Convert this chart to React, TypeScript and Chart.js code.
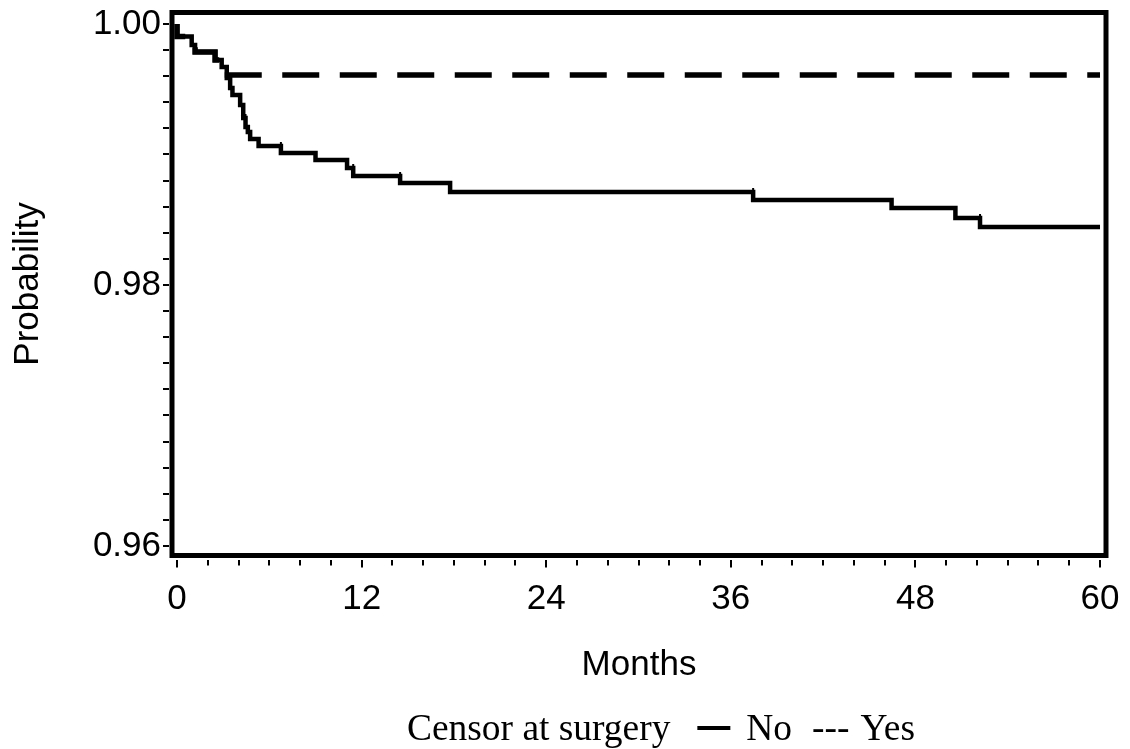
import React, { useEffect, useRef } from 'react';
import { Chart, registerables } from 'chart.js';

Chart.register(...registerables);

// Kaplan-Meier style survival estimates (months, probability)
const noMonths = [0, 0.95, 1.17, 2.47, 2.9, 3.23, 3.45, 3.6, 4.1, 4.3, 4.45, 4.6, 4.75, 5.3, 6.75, 9.0, 11.05, 11.45, 14.5, 17.75, 37.45, 46.45, 50.6, 52.2, 54.05, 60];
const noProb = [1.0, 0.99904, 0.99839, 0.99785, 0.99724, 0.9967, 0.99586, 0.9951, 0.99456, 0.99379, 0.9928, 0.99211, 0.99172, 0.99119, 0.99065, 0.99011, 0.98958, 0.98897, 0.98835, 0.98782, 0.98713, 0.98651, 0.9859, 0.98513, 0.98444, 0.98444];

const yesMonths = [0, 0.95, 1.17, 2.47, 2.9, 3.3, 60];
const yesProb = [1.0, 0.99904, 0.99839, 0.99785, 0.99724, 0.99609, 0.99609];

// censoring marks on the "No" curve
const censorMonths = [4.45, 6.75, 11.45, 14.5, 37.45, 52.2];
const censorProb = [0.9928, 0.99065, 0.98897, 0.98835, 0.98713, 0.98513];

const xTickValues = [0, 12, 24, 36, 48, 60];
const yTickValues = [0.96, 0.98, 1.0];
const xMinorStep = 2;
const yMinorStep = 0.002;

const legendTitle = 'Censor at surgery';
const legendLabels = ['No', 'Yes'];

const SANS = '"Liberation Sans", Arial, Helvetica, sans-serif';
const SERIF = '"Liberation Serif", "Times New Roman", Times, serif';

const framePlugin = {
  id: 'frameAndTicks',
  afterDraw(chart: any) {
    const { ctx, chartArea } = chart;
    const { left, top, right, bottom } = chartArea;
    const xs = chart.scales.x;
    const ys = chart.scales.y;
    ctx.save();
    ctx.strokeStyle = '#000';
    ctx.lineWidth = 5;
    ctx.strokeRect(left, top, right - left, bottom - top);
    // x ticks (outside, below frame)
    ctx.lineWidth = 2;
    for (let v = 0; v <= 60 + 1e-9; v += xMinorStep) {
      const px = Math.round(xs.getPixelForValue(v));
      const major = Math.abs(v % 12) < 1e-9;
      ctx.beginPath();
      ctx.moveTo(px, bottom + 4.5);
      ctx.lineTo(px, bottom + (major ? 12 : 10));
      ctx.stroke();
    }
    // y ticks (outside, left of frame)
    for (let i = 0; i <= 20; i++) {
      const v = 0.96 + i * yMinorStep;
      const py = Math.round(ys.getPixelForValue(v));
      ctx.beginPath();
      ctx.moveTo(left - 3, py);
      ctx.lineTo(left - 9, py);
      ctx.stroke();
    }
    // legend
    const sx = 0.985;
    const baseY = 740;
    ctx.fillStyle = '#000';
    ctx.font = `38px ${SERIF}`;
    ctx.textBaseline = 'alphabetic';
    const drawText = (t: string, x: number) => {
      ctx.save();
      ctx.translate(x, baseY);
      ctx.scale(sx, 1);
      ctx.fillText(t, 0, 0);
      ctx.restore();
      return x + ctx.measureText(t).width * sx;
    };
    let x = drawText(legendTitle, 407);
    x += 27;
    ctx.lineWidth = 4;
    ctx.setLineDash([]);
    ctx.beginPath();
    ctx.moveTo(x, baseY - 12);
    ctx.lineTo(x + 33, baseY - 12);
    ctx.stroke();
    x += 33 + 16;
    x = drawText(legendLabels[0], x);
    x += 20;
    x = drawText('---', x);
    x += 11;
    drawText(legendLabels[1], x);
    ctx.restore();
  },
};

const noOverhang = (s: any) => {
  s.paddingLeft = 0;
  s.paddingRight = 0;
  s.paddingTop = 0;
  s.paddingBottom = 0;
};

export default function App() {
  const ref = useRef<HTMLCanvasElement>(null);
  useEffect(() => {
    document.body.style.margin = '0';
    const noData = noMonths.map((m, i) => ({ x: m, y: noProb[i] }));
    const yesData = yesMonths.map((m, i) => ({ x: m, y: yesProb[i] }));
    const censorData = censorMonths.map((m, i) => ({ x: m, y: censorProb[i] }));
    const chart = new Chart(ref.current as HTMLCanvasElement, {
      type: 'line',
      data: {
        datasets: [
          {
            label: 'censor',
            data: censorData,
            showLine: false,
            pointStyle: 'line',
            rotation: 90,
            pointRadius: 4,
            pointBorderWidth: 2,
            pointBorderColor: '#000',
            pointBackgroundColor: '#000',
          } as any,
          {
            label: legendLabels[0],
            data: noData,
            stepped: 'after',
            borderColor: '#000',
            borderWidth: 4.5,
            pointRadius: 0,
            fill: false,
          },
          {
            label: legendLabels[1],
            data: yesData,
            stepped: 'after',
            borderColor: '#000',
            borderWidth: 5.5,
            borderDash: [37, 20.5],
            borderDashOffset: 16.3,
            pointRadius: 0,
            fill: false,
          },
        ],
      },
      options: {
        responsive: false,
        animation: false,
        devicePixelRatio: 1,
        layout: { padding: { left: 0, top: 12.5, right: 24, bottom: 60 } },
        plugins: { legend: { display: false }, tooltip: { enabled: false } },
        scales: {
          x: {
            type: 'linear',
            min: -0.33,
            max: 60.39,
            afterBuildTicks: (s: any) => {
              s.ticks = xTickValues.map((v) => ({ value: v }));
            },
            afterFit: (s: any) => {
              s.height = 133.5;
              noOverhang(s);
            },
            grid: { display: false, drawTicks: false },
            border: { display: false },
            ticks: {
              color: '#000',
              font: { family: SANS, size: 35 },
              padding: 23,
              maxRotation: 0,
              autoSkip: false,
              callback: (v: any) => String(v),
            },
            title: {
              display: true,
              text: 'Months',
              color: '#000',
              font: { family: SANS, size: 35 },
              padding: { top: 0, bottom: 3 },
            },
          },
          y: {
            type: 'linear',
            min: 0.95927,
            max: 1.00088,
            afterBuildTicks: (s: any) => {
              s.ticks = yTickValues.map((v) => ({ value: v }));
            },
            afterFit: (s: any) => {
              s.width = 172;
              noOverhang(s);
            },
            grid: { display: false, drawTicks: false },
            border: { display: false },
            ticks: {
              color: '#000',
              font: { family: SANS, size: 35 },
              padding: 11,
              callback: (v: any) => Number(v).toFixed(2),
            },
            title: {
              display: true,
              text: 'Probability',
              color: '#000',
              font: { family: SANS, size: 35 },
              padding: { top: 7.5, bottom: 0 },
            },
          },
        },
      },
      plugins: [framePlugin],
    });
    return () => chart.destroy();
  }, []);
  return (
    <div style={{ width: 1130, height: 749 }}>
      <canvas ref={ref} width={1130} height={749} style={{ display: 'block', width: 1130, height: 749 }} />
    </div>
  );
}
